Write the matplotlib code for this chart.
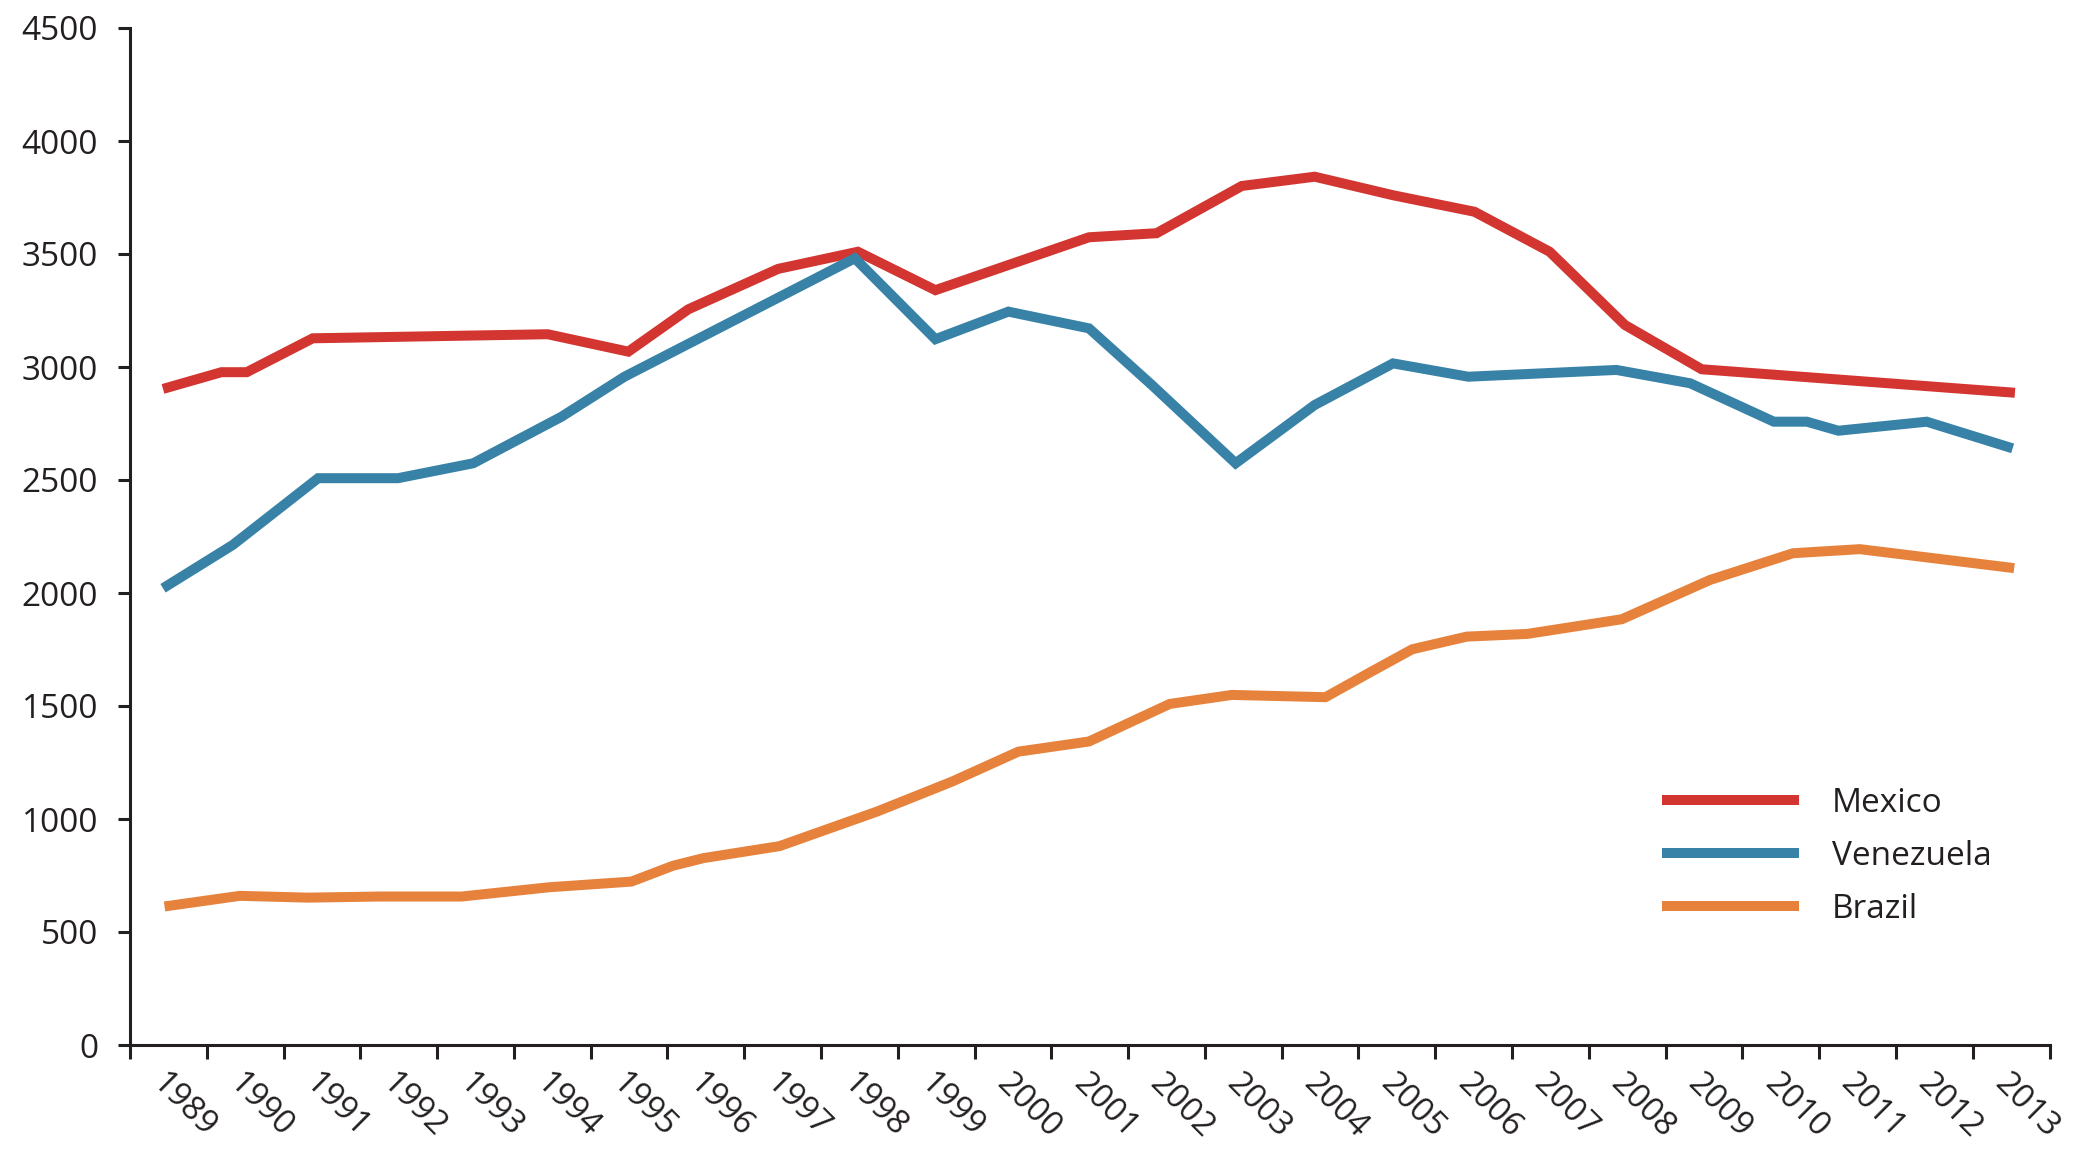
import numpy as np
from matplotlib import pyplot as plt

years = list(range(1989, 2014))

mexico_x = [1988.93, 1989.69, 1990.02, 1990.88, 1993.94, 1994.99, 1995.77, 1996.94, 1997.98,
            1998.99, 2000.99, 2001.87, 2002.98, 2003.93, 2004.95, 2006.01, 2006.99, 2007.97,
            2008.97, 2013.05]
mexico_y = [2903, 2977, 2977, 3127, 3145, 3068, 3255, 3434, 3510,
            3340, 3574, 3592, 3801, 3842, 3760, 3687, 3510, 3186,
            2990, 2886]

venezuela_x = [1988.93, 1989.84, 1990.95, 1991.99, 1992.97, 1994.12, 1994.94, 1997.94, 1998.99,
               1999.94, 2000.99, 2001.81, 2002.90, 2003.93, 2004.95, 2005.93, 2007.86, 2008.82,
               2009.91, 2010.34, 2010.75, 2011.90, 2013.02]
venezuela_y = [2021, 2213, 2508, 2508, 2574, 2780, 2957, 3481, 3123,
               3245, 3171, 2920, 2574, 2832, 3016, 2957, 2987, 2928,
               2758, 2758, 2718, 2758, 2640]

brazil_x = [1988.95, 1989.93, 1990.82, 1991.74, 1992.82, 1993.96, 1995.03, 1995.57, 1995.97,
            1996.96, 1998.23, 1999.21, 2000.07, 2000.99, 2002.04, 2002.85, 2004.07, 2004.63,
            2005.20, 2005.91, 2006.70, 2007.93, 2009.08, 2010.16, 2011.03, 2013.04]
brazil_y = [613, 660, 652, 657, 657, 698, 723, 793, 827,
            880, 1033, 1166, 1298, 1343, 1509, 1549, 1539, 1645,
            1751, 1807, 1819, 1884, 2058, 2176, 2194, 2110]

series = [
    ("Mexico", mexico_x, mexico_y, "#d33531"),
    ("Venezuela", venezuela_x, venezuela_y, "#3782a6"),
    ("Brazil", brazil_x, brazil_y, "#e6823b"),
]

plt.rcParams["font.family"] = ["Open Sans", "DejaVu Sans"]
text_color = "#231f20"

fig = plt.figure(figsize=(20.84, 11.66), dpi=100)
ax = fig.add_axes([130 / 2084, 1 - 1045 / 1166, (2049.5 - 130) / 2084, (1045 - 28) / 1166])

for name, xs, ys, color in series:
    ax.plot(xs, ys, color=color, linewidth=7.2, label=name,
            solid_capstyle="butt", solid_joinstyle="miter")

ax.set_xlim(years[0] - 0.5, years[-1] + 0.5)
ax.set_ylim(0, 4500)
ax.set_yticks(np.arange(0, 4501, 500))

# tick marks on the year boundaries, labels in the middle of each year
ax.set_xticks(np.arange(years[0] - 0.5, years[-1] + 0.51, 1.0))
ax.set_xticklabels([])
ax.set_xticks(years, minor=True)
ax.set_xticklabels([str(y) for y in years], minor=True, rotation=-45,
                   ha="left", va="top", rotation_mode="anchor")

for s in ["top", "right"]:
    ax.spines[s].set_visible(False)
for s in ["left", "bottom"]:
    ax.spines[s].set_linewidth(2.2)
    ax.spines[s].set_color(text_color)

ax.tick_params(axis="y", which="major", length=9, width=2.2, color=text_color,
               labelsize=24, labelcolor=text_color, pad=14)
ax.tick_params(axis="x", which="major", length=10, width=2.2, color=text_color)
ax.tick_params(axis="x", which="minor", length=0, labelsize=24,
               labelcolor=text_color, pad=16)

leg = ax.legend(loc="upper left", bbox_to_anchor=(1662 / 2084, 1 - 787 / 1166),
                bbox_transform=fig.transFigure, frameon=False, fontsize=24,
                handlelength=4.1, handletextpad=1.0, labelspacing=0.6,
                borderpad=0, borderaxespad=0)
for t in leg.get_texts():
    t.set_color(text_color)

fig.savefig("out.png", dpi=100)
